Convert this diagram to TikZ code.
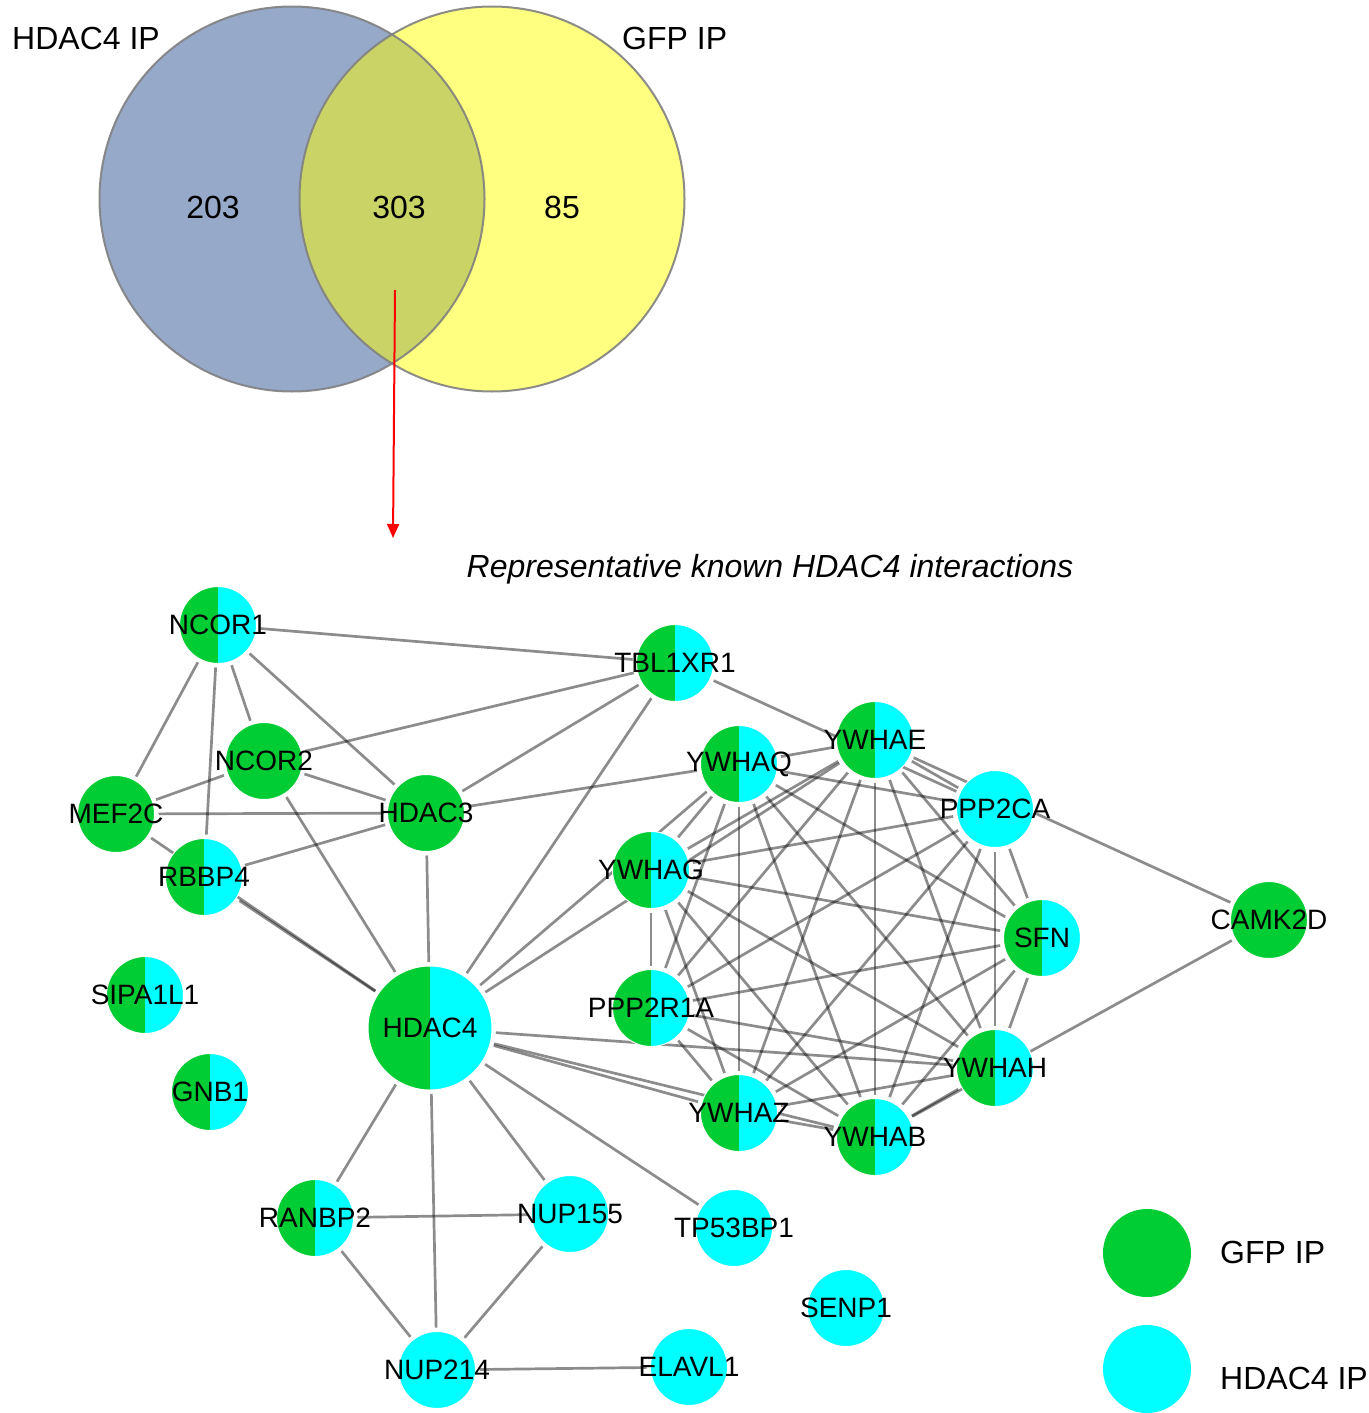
\documentclass[tikz,border=0pt]{standalone}
\usepackage{fontspec}
\setmainfont{Liberation Sans}
\usetikzlibrary{arrows.meta,backgrounds}
\definecolor{gfp}{RGB}{0,204,51}
\definecolor{hip}{RGB}{0,255,255}
\definecolor{vblue}{RGB}{151,169,201}
\definecolor{vyel}{RGB}{255,255,128}
\definecolor{volive}{RGB}{202,211,102}
\definecolor{vline}{RGB}{128,128,128}
\tikzset{
  half/.style={circle, minimum size=77pt, inner sep=0pt, outer sep=4pt, draw=white, line width=1pt,
    path picture={\fill[gfp] (path picture bounding box.south west) rectangle (path picture bounding box.north);
                  \fill[hip] (path picture bounding box.south) rectangle (path picture bounding box.north east);}},
  gfpnode/.style={circle, minimum size=77pt, inner sep=0pt, outer sep=4pt, fill=gfp, draw=white, line width=1pt},
  hipnode/.style={circle, minimum size=77pt, inner sep=0pt, outer sep=4pt, fill=hip, draw=white, line width=1pt},
  lab/.style={font=\fontsize{28}{30}\selectfont, inner sep=0pt, text=black},
  big/.style={font=\fontsize{32}{34}\selectfont, inner sep=0pt},
  edge/.style={draw=black, opacity=0.45, line width=2.7pt},
}
\begin{document}
\begin{tikzpicture}[x=1pt,y=-1pt]
\useasboundingbox (0,0) rectangle (1368,1413);

% Venn diagram
\fill[vblue] (292,199) circle (192.5);
\fill[vyel] (492,199) circle (192.5);
\begin{scope}
  \clip (292,199) circle (192.5);
  \fill[volive] (492,199) circle (192.5);
\end{scope}
\draw[vline, line width=2pt, opacity=0.9] (292,199) circle (192.5);
\draw[vline, line width=2pt, opacity=0.9] (492,199) circle (192.5);
\node[big, anchor=west] (vl) at (12,38) {HDAC4 IP};
\node[big, anchor=west] (vr) at (622,38) {GFP IP};
\node[big] (n203) at (213,207) {203};
\node[big] (n303) at (399,207) {303};
\node[big] (n85) at (562,207) {85};
\coordinate (arrS) at (395,290);
\coordinate (arrE) at (393,538);
\draw[red, line width=2pt, -{Triangle[length=14pt,width=12pt]}] (arrS) -- (arrE);

\node[font=\fontsize{32}{34}\selectfont\itshape, inner sep=0pt] (title) at (770,569) {Representative known HDAC4 interactions};

% Network nodes
\node[half, label={[lab]center:NCOR1}] (ncor1) at (218,625) {};
\node[half, label={[lab]center:TBL1XR1}] (tbl) at (675,663) {};
\node[gfpnode, label={[lab]center:NCOR2}] (ncor2) at (264,761) {};
\node[gfpnode, label={[lab]center:MEF2C}] (mef) at (116,814) {};
\node[gfpnode, label={[lab]center:HDAC3}] (hdac3) at (426,813) {};
\node[half, label={[lab]center:RBBP4}] (rbbp4) at (204,877) {};
\node[half, label={[lab]center:YWHAQ}] (ywhaq) at (739,764) {};
\node[half, label={[lab]center:YWHAE}] (ywhae) at (875,740) {};
\node[hipnode, label={[lab]center:PPP2CA}] (ppp2ca) at (995,809) {};
\node[half, label={[lab]center:YWHAG}] (ywhag) at (651,870) {};
\node[half, label={[lab]center:SFN}] (sfn) at (1042,938) {};
\node[gfpnode, label={[lab]center:CAMK2D}] (camk) at (1269,920) {};
\node[half, label={[lab]center:SIPA1L1}] (sipa) at (145,995) {};
\node[half, minimum size=124pt, label={[lab]center:HDAC4}] (hdac4) at (430,1028) {};
\node[half, label={[lab]center:PPP2R1A}] (ppp2r1a) at (651,1008) {};
\node[half, label={[lab]center:YWHAH}] (ywhah) at (995,1068) {};
\node[half, label={[lab]center:YWHAZ}] (ywhaz) at (739,1113) {};
\node[half, label={[lab]center:YWHAB}] (ywhab) at (875,1137) {};
\node[half, label={[lab]center:GNB1}] (gnb1) at (210,1092) {};
\node[half, label={[lab]center:RANBP2}] (ranbp2) at (315,1218) {};
\node[hipnode, label={[lab]center:NUP155}] (nup155) at (570,1214) {};
\node[hipnode, label={[lab]center:TP53BP1}] (tp53) at (734,1228) {};
\node[hipnode, label={[lab]center:SENP1}] (senp1) at (846,1308) {};
\node[hipnode, label={[lab]center:NUP214}] (nup214) at (437,1370) {};
\node[hipnode, label={[lab]center:ELAVL1}] (elavl1) at (689,1367) {};

% Legend
\node[circle, fill=gfp, minimum size=88pt, inner sep=0pt] (lgfp) at (1147,1253) {};
\node[circle, fill=hip, minimum size=88pt, inner sep=0pt] (lhip) at (1147,1369) {};
\node[big, anchor=west] (lgfpt) at (1220,1252) {GFP IP};
\node[big, anchor=west] (lhipt) at (1220,1378) {HDAC4 IP};

% Edges
\begin{scope}[on background layer]
  \foreach \a/\b in {ncor1/tbl, ncor1/mef, ncor1/rbbp4, ncor1/ncor2, ncor1/hdac3,
      ncor2/tbl, ncor2/mef, ncor2/hdac3, ncor2/hdac4,
      mef/hdac3, mef/hdac4, rbbp4/hdac3, rbbp4/hdac4,
      hdac3/tbl, hdac3/ywhaq, hdac3/hdac4,
      tbl/hdac4, tbl/ppp2ca,
      hdac4/ywhaq, hdac4/ywhae, hdac4/ywhah, hdac4/ywhaz, hdac4/ywhab,
      hdac4/tp53, hdac4/nup155, hdac4/nup214, hdac4/ranbp2,
      ywhae/camk, camk/ywhab,
      ranbp2/nup155, ranbp2/nup214, nup155/nup214, nup214/elavl1}
    {\draw[edge] (\a) -- (\b);}
  \foreach \a [count=\i] in {ywhaq,ywhae,ppp2ca,ywhag,sfn,ppp2r1a,ywhah,ywhaz,ywhab}{
    \foreach \b [count=\j] in {ywhaq,ywhae,ppp2ca,ywhag,sfn,ppp2r1a,ywhah,ywhaz,ywhab}{
      \ifnum\j>\i \draw[edge] (\a) -- (\b); \fi
    }
  }
\end{scope}
\end{tikzpicture}
\end{document}
